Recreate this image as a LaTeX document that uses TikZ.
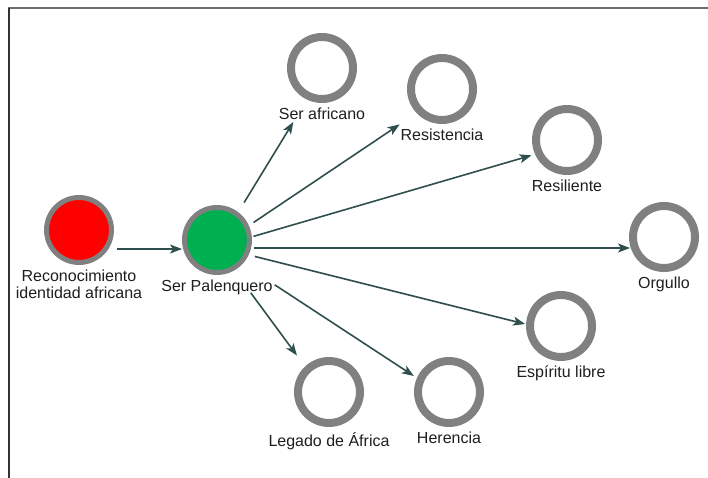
\documentclass[tikz,border=0pt]{standalone}
\usepackage{fontspec}
\setmainfont{Liberation Sans}
\usetikzlibrary{arrows.meta}

\definecolor{ringgray}{RGB}{128,128,128}
\definecolor{linkcol}{RGB}{47,79,79}
\definecolor{txtcol}{RGB}{30,30,30}
\definecolor{palred}{RGB}{255,0,0}
\definecolor{palgreen}{RGB}{0,176,80}

\begin{document}
\begin{tikzpicture}[x=1pt,y=-1pt,
    ring/.style={circle,draw=ringgray,line width=8pt,minimum size=62pt,inner sep=0pt},
    hub/.style={circle,draw=ringgray,line width=5pt,minimum size=65pt,inner sep=0pt},
    link/.style={draw=linkcol,line width=1.6pt,-{Stealth[length=12pt,width=9pt,inset=3pt]}},
    every label/.style={font=\fontsize{16}{17}\selectfont,text=txtcol,inner sep=0pt},
    label distance=5pt]
  \useasboundingbox (0,0) rectangle (708,478);
  % frame
  \draw[ringgray!85!black,line width=1.8pt] (8,8) -- (708,8);
  \draw[black!80,line width=1.4pt] (9,8) -- (9,478);

  \node[hub,fill=palred,label={[align=center]below:Reconocimiento\\identidad africana}] (rec) at (79,230) {};
  \node[hub,fill=palgreen,label=below:Ser Palenquero] (pal) at (217,240) {};

  \node[ring,label=below:Ser africano] (afr) at (322,68) {};
  \node[ring,label=below:Resistencia] (resis) at (442,89) {};
  \node[ring,label=below:Resiliente] (resil) at (567,140) {};
  \node[ring,label=below:Orgullo] (orgullo) at (664,237) {};
  \node[ring,label=below:Espíritu libre] (espiritu) at (561,326) {};
  \node[ring,label=below:Legado de África] (legado) at (329,392) {};
  \node[ring,label=below:Herencia] (herencia) at (449,392) {};

  \draw[link,shorten <=3pt] ([yshift=-19pt]rec.east) -- ([yshift=-9pt]pal.west);

  \draw[link,shorten <=52pt,shorten >=55pt] ([yshift=-7pt]pal.center) -- ([yshift=-7pt]afr.center);
  \draw[link,shorten <=44pt,shorten >=51pt] ([yshift=-7pt]pal.center) -- ([yshift=-7pt]resis.center);
  \draw[link,shorten <=38pt,shorten >=37pt] ([yshift=-7pt]pal.center) -- ([yshift=-5pt]resil.center);
  \draw[link,shorten <=37pt,shorten >=34pt] ([yshift=-8pt]pal.center) -- ([yshift=-11pt]orgullo.center);
  \draw[link,shorten <=39pt,shorten >=37pt] ([yshift=-7pt]pal.center) -- ([yshift=-7pt]espiritu.center);
  \draw[link,shorten <=57pt,shorten >=54pt] ([yshift=-7pt]pal.center) -- ([yshift=-7pt]legado.center);
  \draw[link,shorten <=69pt,shorten >=42pt] ([yshift=-7pt]pal.center) -- ([yshift=-7pt]herencia.center);
\end{tikzpicture}
\end{document}
